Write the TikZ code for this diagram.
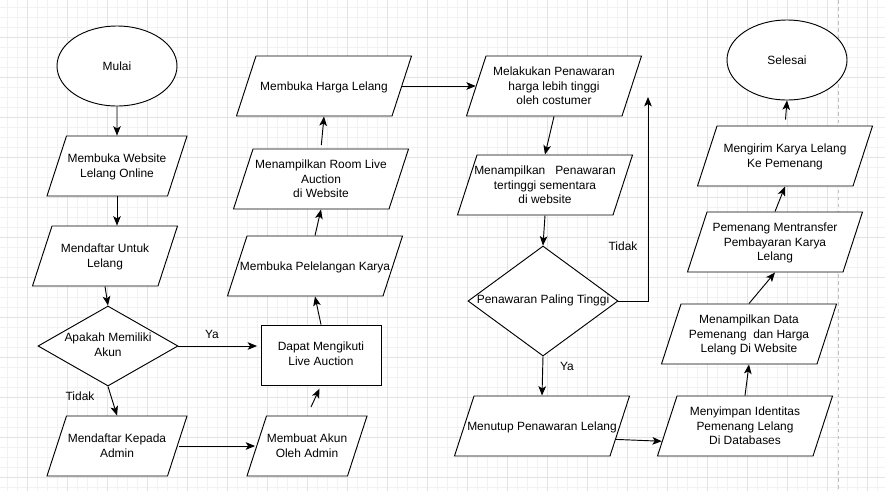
\documentclass[tikz,border=0pt]{standalone}
\usepackage{fontspec}
\setmainfont{Liberation Sans}
\usetikzlibrary{shapes.geometric,arrows.meta,calc}

% isi node dengan lebar tetap, tidak ikut menentukan ukuran bentuk
\newcommand{\isi}[2][2cm]{\makebox[#1]{\begin{tabular}{@{}c@{}}#2\end{tabular}}}

\tikzset{
	dasar/.style = {draw, fill=white, line width=0.8pt, inner sep=0pt, font=\fontsize{10.2}{12.3}\selectfont},
	terminal/.style = {dasar, ellipse, minimum width=3.6cm, minimum height=2.4cm},
	io/.style = {dasar, trapezium, trapezium left angle=72, trapezium right angle=108,
		trapezium stretches body=true, text height=0.9cm+3.5pt, text depth=0.9cm-3.5pt, minimum width=5.25cm},
	proses/.style = {dasar, rectangle, minimum width=3.6cm, minimum height=1.8cm},
	keputusan/.style = {dasar, diamond, minimum width=4.2cm, minimum height=2.4cm},
	ket/.style = {font=\fontsize{10.2}{12.3}\selectfont, inner sep=0pt},
	panah/.style = {-{Stealth[length=8pt,width=6.5pt,inset=2pt]}, line width=0.8pt},
	gridkecil/.style = {line width=0.4pt, black!5},
	gridbesar/.style = {line width=0.6pt, black!11}
}

\begin{document}
\begin{tikzpicture}[x=0.03cm, y=-0.03cm]
	\useasboundingbox (0,0) rectangle (885,491);
	% latar grid
	\foreach \gx in {7,17,...,877} \draw[gridkecil] (\gx,0) -- (\gx,491);
	\foreach \gy in {7,17,...,487} \draw[gridkecil] (0,\gy) -- (885,\gy);
	\foreach \gx in {27,67,...,867} \draw[gridbesar] (\gx,0) -- (\gx,491);
	\foreach \gy in {37,77,...,477} \draw[gridbesar] (0,\gy) -- (885,\gy);
	\draw[dashed, black!25, line width=0.5pt] (838,0) -- (838,491);

	% kolom 1
	\node [terminal] (mulai) at (117,66) {Mulai};
	\node [io, minimum width=4.2cm] (web) at (117,166) {\isi{Membuka Website\\Lelang Online}};
	\node [io, minimum width=4.35cm] (daftar) at (105,256) {\isi{Mendaftar Untuk\\Lelang}};
	\node [keputusan] (akun) at (108,346) {\isi[0pt]{Apakah Memiliki\\Akun}};
	\node [io, minimum width=4.2cm] (kepada) at (117,446) {\isi{Mendaftar Kepada\\Admin}};

	% kolom 2
	\node [io, minimum width=3.6cm] (buatakun) at (307,446) {\isi{Membuat Akun\\Oleh Admin}};
	\node [proses] (ikut) at (321,355) {\isi{Dapat Mengikuti\\Live Auction}};
	\node [io] (pelelangan) at (315,266) {\isi{Membuka Pelelangan Karya}};
	\node [io] (room) at (321,179) {\isi{Menampilkan Room Live\\Auction\\di Website}};
	\node [io] (harga) at (324,86) {\isi{Membuka Harga Lelang}};

	% kolom 3
	\node [io] (tawar) at (554,86) {\isi{Melakukan Penawaran\\harga lebih tinggi\\oleh costumer}};
	\node [io] (sementara) at (545,185) {\isi{Menampilkan\ \ \ Penawaran\\tertinggi sementara\\di website}};
	\node [keputusan, minimum width=4.5cm, minimum height=3.3cm] (tinggi) at (543,301) {\isi[0pt]{Penawaran Paling Tinggi}};
	\node [io] (tutup) at (542,426) {\isi{Menutup Penawaran Lelang}};
	\coordinate (balik) at (648,97);

	% kolom 4
	\node [io] (simpan) at (745,426) {\isi{Menyimpan Identitas\\Pemenang Lelang\\Di Databases}};
	\node [io] (data) at (749,334) {\isi{Menampilkan Data\\Pemenang\ \ dan Harga\\Lelang Di Website}};
	\node [io] (transfer) at (775,242) {\isi{Pemenang Mentransfer\\Pembayaran Karya\\Lelang}};
	\node [io] (kirim) at (785,156) {\isi{Mengirim Karya Lelang\\Ke Pemenang}};
	\node [terminal] (selesai) at (787,60) {Selesai};

	% keterangan
	\node [ket] (ya1) at (212,334) {Ya};
	\node [ket] (tidak1) at (80,396) {Tidak};
	\node [ket] (tidak2) at (623,246) {Tidak};
	\node [ket] (ya2) at (567,366) {Ya};

	% alur
	\draw [panah] (mulai.south) -- (web.north);
	\draw [panah] (web.south) -- (web.south |- daftar.north);
	\draw [panah] (daftar.south) -- (akun.north);
	\draw [panah, shorten >=3pt] (akun.east) -- (akun.east -| ikut.west);
	\draw [panah] (akun.south) -- (kepada.north);
	\draw [panah, shorten <=1pt, shorten >=1pt] ($(kepada.top right corner)!0.5!(kepada.bottom right corner)$) -- ($(buatakun.top left corner)!0.5!(buatakun.bottom left corner)$);
	\draw [panah, shorten <=8pt, shorten >=3pt] (buatakun.north) -- (ikut.south);
	\draw [panah] (ikut.north) -- (pelelangan.south);
	\draw [panah] (pelelangan.north) -- (room.south);
	\draw [panah, shorten <=3pt] (room.north) -- (harga.south);
	\draw [panah] ($(harga.top right corner)!0.5!(harga.bottom right corner)$) -- ($(tawar.top left corner)!0.5!(tawar.bottom left corner)$);
	\draw [panah] (tawar.south) -- (sementara.north);
	\draw [panah] (sementara.south) -- (tinggi.north);
	\draw [panah] (tinggi.east) -| (balik);
	\draw [panah] (tinggi.south) -- (tutup.north);
	\draw [panah] ($(tutup.top right corner)!0.72!(tutup.bottom right corner)$) -- ($(simpan.top left corner)!0.75!(simpan.bottom left corner)$);
	\draw [panah] (simpan.north) -- (data.south);
	\draw [panah] (data.north) -- (transfer.south);
	\draw [panah] (transfer.north) -- (kirim.south);
	\draw [panah, shorten <=5pt] (kirim.north) -- (selesai.south);
\end{tikzpicture}
\end{document}
